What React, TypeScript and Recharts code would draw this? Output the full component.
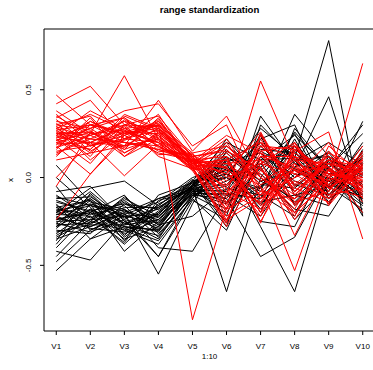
import React from "react";
import { LineChart, Line, XAxis, YAxis, ReferenceLine } from "recharts";

const categories = ["V1", "V2", "V3", "V4", "V5", "V6", "V7", "V8", "V9", "V10"];
const yTicks = [-0.5, 0, 0.5];
const yTickLabels = ["-0.5", "0.0", "0.5"];

const blackSeries: number[][] = [
  [-0.53, -0.35, -0.28, -0.30, -0.08, 0.05, -0.10, 0.12, -0.05, 0.02],
  [-0.48, -0.30, -0.22, -0.45, -0.10, -0.20, 0.08, -0.15, 0.05, -0.08],
  [-0.45, -0.25, -0.30, -0.38, -0.12, 0.10, 0.20, -0.05, 0.10, 0.00],
  [-0.42, -0.47, -0.25, -0.35, -0.06, -0.65, 0.00, 0.25, -0.10, 0.05],
  [-0.40, -0.20, -0.35, -0.28, -0.05, 0.00, -0.15, 0.05, -0.02, -0.12],
  [-0.38, -0.15, -0.42, -0.25, -0.10, -0.12, -0.45, -0.34, 0.02, 0.10],
  [-0.35, -0.28, -0.20, -0.55, -0.15, 0.15, 0.05, -0.20, 0.08, -0.05],
  [-0.33, -0.22, -0.38, -0.20, -0.03, -0.28, 0.30, 0.10, -0.15, 0.15],
  [-0.32, -0.18, -0.26, -0.22, -0.04, 0.08, -0.28, -0.65, 0.00, -0.10],
  [-0.30, -0.32, -0.15, -0.18, -0.02, 0.20, 0.10, 0.11, 0.78, -0.22],
  [-0.28, -0.10, -0.28, -0.30, -0.08, -0.05, 0.15, 0.05, 0.46, -0.15],
  [-0.27, -0.26, -0.18, -0.40, -0.42, -0.10, -0.05, 0.18, -0.08, 0.32],
  [-0.26, -0.12, -0.33, -0.15, -0.06, 0.12, -0.20, 0.28, 0.05, 0.30],
  [-0.25, -0.24, -0.22, -0.26, -0.09, -0.15, 0.25, -0.10, -0.05, -0.18],
  [-0.24, -0.20, -0.10, -0.32, -0.11, 0.02, -0.08, 0.36, 0.12, -0.22],
  [-0.23, -0.08, -0.24, -0.12, -0.05, 0.22, 0.00, -0.18, -0.22, 0.08],
  [-0.22, -0.29, -0.31, -0.20, -0.07, -0.08, 0.18, 0.00, 0.15, -0.06],
  [-0.21, -0.16, -0.19, -0.28, -0.04, 0.05, -0.12, 0.22, -0.12, 0.12],
  [-0.20, -0.06, -0.02, -0.16, -0.01, -0.22, 0.35, 0.08, 0.02, -0.15],
  [-0.19, -0.27, -0.27, -0.24, -0.06, 0.10, -0.25, -0.28, 0.10, 0.00],
  [-0.18, -0.21, -0.16, -0.34, -0.10, -0.02, 0.08, 0.15, -0.06, 0.18],
  [-0.17, -0.13, -0.36, -0.10, -0.03, 0.14, -0.02, -0.12, 0.06, -0.10],
  [-0.16, -0.25, -0.12, -0.22, -0.08, -0.18, 0.22, 0.30, -0.10, 0.06],
  [-0.15, -0.35, -0.21, -0.14, 0.00, 0.06, -0.18, 0.02, 0.00, -0.20],
  [-0.14, -0.19, -0.29, -0.36, -0.12, -0.30, 0.12, -0.08, 0.08, 0.02],
  [-0.12, -0.11, -0.23, -0.18, -0.05, 0.18, 0.04, 0.20, -0.04, 0.14],
  [-0.10, -0.23, -0.14, -0.27, -0.22, -0.06, -0.10, -0.22, 0.12, -0.04],
  [-0.08, -0.05, -0.25, -0.21, -0.02, 0.00, 0.28, 0.12, -0.14, 0.09],
  [-0.05, -0.30, -0.20, -0.12, -0.07, -0.14, -0.06, 0.26, 0.04, -0.12],
  [0.00, -0.17, -0.32, -0.24, -0.04, 0.09, 0.14, -0.02, -0.08, 0.20],
  [0.07, -0.14, -0.18, -0.30, -0.09, -0.10, -0.22, 0.06, 0.14, -0.08],
  [-0.36, -0.09, -0.27, -0.16, -0.02, 0.04, 0.02, -0.14, 0.06, 0.25],
  [-0.31, -0.27, -0.11, -0.26, -0.06, -0.04, 0.16, 0.14, -0.02, -0.16],
  [-0.29, -0.13, -0.34, -0.19, -0.05, 0.16, -0.04, -0.06, 0.10, 0.03],
  [-0.26, -0.31, -0.24, -0.45, -0.13, -0.24, 0.06, 0.18, -0.12, -0.02],
  [-0.24, -0.19, -0.15, -0.23, -0.03, 0.02, -0.16, 0.09, 0.20, 0.07],
  [-0.21, -0.22, -0.37, -0.13, -0.08, -0.07, 0.24, -0.16, 0.00, -0.09],
  [-0.19, -0.15, -0.21, -0.29, -0.04, 0.12, -0.02, 0.04, -0.06, 0.11],
  [-0.17, -0.26, -0.17, -0.17, -0.06, -0.12, 0.10, 0.24, 0.06, -0.13],
  [-0.13, -0.20, -0.28, -0.33, -0.10, 0.07, -0.14, -0.10, -0.16, 0.16],
  [-0.11, -0.16, -0.22, -0.21, -0.02, -0.26, 0.18, 0.00, 0.09, -0.05],
  [-0.34, -0.24, -0.13, -0.27, -0.07, 0.00, -0.06, 0.16, 0.02, 0.05],
  [-0.28, -0.18, -0.30, -0.17, -0.05, 0.11, 0.06, -0.24, -0.04, -0.11],
  [-0.23, -0.28, -0.19, -0.24, -0.09, -0.09, -0.12, 0.10, 0.12, 0.01],
  [-0.20, -0.12, -0.26, -0.31, -0.06, 0.03, 0.20, -0.04, -0.10, 0.13],
];

const redSeries: number[][] = [
  [0.47, 0.30, 0.25, 0.28, 0.10, 0.05, -0.10, 0.12, 0.00, -0.05],
  [0.42, 0.52, 0.30, 0.35, 0.12, -0.15, 0.20, -0.05, 0.08, 0.02],
  [0.38, 0.25, 0.58, 0.22, 0.08, 0.10, -0.20, 0.05, -0.10, 0.10],
  [0.36, 0.20, 0.18, 0.44, 0.15, 0.35, 0.00, -0.15, 0.05, -0.08],
  [0.34, 0.44, 0.22, 0.30, 0.06, -0.05, 0.15, 0.18, -0.05, 0.04],
  [0.32, 0.28, 0.38, 0.42, 0.18, 0.30, -0.12, 0.00, 0.20, -0.12],
  [0.31, 0.15, 0.26, 0.20, 0.04, -0.25, 0.25, -0.10, 0.10, 0.06],
  [0.30, 0.35, 0.14, 0.25, 0.10, 0.08, -0.05, -0.53, 0.02, 0.00],
  [0.29, 0.22, 0.32, 0.18, 0.07, -0.10, 0.55, 0.10, -0.08, 0.15],
  [0.28, 0.18, 0.24, 0.32, 0.12, 0.15, 0.05, -0.20, -0.02, 0.65],
  [0.27, 0.30, 0.20, 0.16, 0.09, 0.02, -0.15, 0.15, 0.26, -0.35],
  [0.26, 0.12, 0.35, 0.27, 0.11, -0.20, 0.10, -0.33, 0.05, -0.20],
  [0.25, 0.26, 0.18, 0.22, 0.05, 0.12, -0.25, 0.08, -0.15, 0.08],
  [0.24, 0.38, 0.28, 0.30, 0.14, -0.12, 0.18, 0.02, 0.12, -0.02],
  [0.23, 0.20, 0.01, 0.19, 0.08, 0.20, -0.08, -0.12, 0.00, 0.12],
  [0.22, 0.08, 0.30, 0.24, 0.06, -0.28, 0.08, 0.20, -0.06, 0.05],
  [0.21, 0.32, 0.24, 0.14, 0.10, 0.06, 0.22, -0.08, 0.08, -0.10],
  [0.20, 0.16, 0.36, 0.28, 0.13, -0.08, -0.18, 0.12, -0.12, 0.03],
  [0.19, 0.28, 0.16, 0.34, 0.07, 0.18, 0.02, -0.18, 0.15, -0.06],
  [0.18, 0.02, 0.22, 0.20, 0.09, -0.18, 0.12, 0.06, -0.02, 0.09],
  [0.17, 0.24, 0.30, 0.12, 0.05, 0.04, -0.22, 0.16, 0.04, -0.04],
  [0.16, 0.34, 0.12, 0.26, 0.11, -0.02, 0.16, -0.14, -0.08, 0.18],
  [0.15, 0.18, 0.26, 0.31, 0.08, 0.14, -0.04, 0.04, 0.06, -0.14],
  [0.14, 0.22, 0.20, 0.16, 0.12, -0.14, 0.06, -0.22, 0.18, 0.01],
  [0.12, 0.30, 0.34, 0.22, 0.04, 0.10, 0.20, 0.10, -0.04, 0.07],
  [0.10, 0.14, 0.18, 0.28, 0.10, -0.22, -0.10, 0.00, 0.10, -0.08],
  [0.00, 0.20, 0.28, 0.18, 0.06, 0.08, 0.10, -0.06, -0.14, 0.11],
  [-0.05, 0.26, 0.14, 0.24, 0.09, -0.06, -0.14, 0.14, 0.02, -0.01],
  [-0.24, 0.02, 0.24, 0.30, -0.81, -0.17, 0.04, -0.10, 0.08, 0.04],
  [0.35, 0.24, 0.32, 0.26, 0.12, 0.16, -0.02, 0.08, -0.06, 0.06],
  [0.33, 0.18, 0.22, 0.36, 0.07, -0.16, 0.14, -0.16, 0.04, -0.03],
  [0.30, 0.27, 0.12, 0.22, 0.10, 0.12, -0.26, 0.18, 0.00, 0.10],
  [0.28, 0.36, 0.27, 0.15, 0.13, 0.00, 0.08, 0.02, -0.10, -0.06],
  [0.27, 0.14, 0.30, 0.29, 0.05, -0.26, 0.24, -0.04, 0.12, 0.02],
  [0.25, 0.22, 0.20, 0.18, 0.08, 0.22, -0.06, -0.20, -0.02, 0.08],
  [0.23, 0.30, 0.26, 0.25, 0.11, -0.04, 0.12, 0.12, 0.06, -0.09],
  [0.22, 0.16, 0.33, 0.21, 0.07, 0.06, -0.16, -0.02, -0.12, 0.13],
  [0.20, 0.26, 0.17, 0.32, 0.09, -0.10, 0.18, 0.16, 0.02, -0.02],
  [0.19, 0.20, 0.29, 0.13, 0.14, 0.18, 0.00, -0.12, 0.14, 0.05],
  [0.17, 0.32, 0.22, 0.27, 0.06, -0.24, -0.12, 0.06, -0.06, -0.11],
  [0.26, 0.24, 0.16, 0.23, 0.10, 0.02, 0.26, -0.08, 0.10, 0.00],
  [0.29, 0.10, 0.25, 0.30, 0.08, 0.10, -0.20, 0.20, -0.16, 0.07],
  [0.21, 0.28, 0.34, 0.17, 0.12, -0.08, 0.06, -0.24, 0.04, -0.05],
  [0.24, 0.19, 0.21, 0.33, 0.09, 0.24, 0.14, 0.04, -0.04, 0.14],
  [0.13, 0.25, 0.27, 0.20, 0.05, -0.18, -0.08, 0.10, 0.08, -0.07],
];

const data = categories.map((c, i) => {
  const row: Record<string, number | string> = { idx: i + 1, cat: c };
  blackSeries.forEach((s, j) => {
    row["b" + j] = s[i];
  });
  redSeries.forEach((s, j) => {
    row["r" + j] = s[i];
  });
  return row;
});

const FONT = "'Liberation Sans', Arial, Helvetica, sans-serif";
const Y_MIN = -0.874;
const Y_MAX = 0.846;

const YTick = (props: any) => {
  const { y, payload } = props;
  const i = yTicks.indexOf(payload.value);
  const label = i >= 0 ? yTickLabels[i] : String(payload.value);
  return (
    <text
      x={29}
      y={y}
      transform={`rotate(-90, 29, ${y})`}
      textAnchor="middle"
      dominantBaseline="central"
      fontSize={8}
      fontFamily={FONT}
      fill="#000"
    >
      {label}
    </text>
  );
};

export default function App() {
  return (
    <div
      style={{
        position: "fixed",
        left: 0,
        top: 0,
        width: 373,
        height: 370,
        overflow: "hidden",
        background: "#fff",
      }}
    >
      <LineChart
        width={376}
        height={370}
        data={data}
        margin={{ top: 29, right: 1, bottom: 0, left: 0 }}
      >
        <XAxis
          dataKey="idx"
          type="number"
          domain={[0.64, 10.36]}
          allowDataOverflow
          ticks={[1, 2, 3, 4, 5, 6, 7, 8, 9, 10]}
          tickFormatter={(v: number) => categories[v - 1]}
          interval={0}
          stroke="#000"
          tickSize={4}
          tickMargin={8}
          tick={{ fontSize: 8, fontFamily: FONT, fill: "#000" }}
          height={39}
        />
        <YAxis
          type="number"
          domain={[Y_MIN, Y_MAX]}
          allowDataOverflow
          ticks={yTicks}
          interval={0}
          stroke="#000"
          tickSize={4}
          tick={<YTick />}
          width={44}
        />
        <ReferenceLine y={Y_MAX} stroke="#000" strokeWidth={1} />
        {blackSeries.map((_, j) => (
          <Line
            key={"b" + j}
            dataKey={"b" + j}
            type="linear"
            stroke="#000000"
            strokeWidth={1}
            dot={false}
            activeDot={false}
            isAnimationActive={false}
          />
        ))}
        {redSeries.map((_, j) => (
          <Line
            key={"r" + j}
            dataKey={"r" + j}
            type="linear"
            stroke="#ff0000"
            strokeWidth={1}
            dot={false}
            activeDot={false}
            isAnimationActive={false}
          />
        ))}
      </LineChart>
      <div
        style={{
          position: "absolute",
          left: 209.5,
          top: 10,
          transform: "translate(-50%, -50%)",
          fontFamily: FONT,
          fontWeight: "bold",
          fontSize: 9.6,
          lineHeight: 1,
          whiteSpace: "nowrap",
          color: "#000",
        }}
      >
        range standardization
      </div>
      <div
        style={{
          position: "absolute",
          left: 209.5,
          top: 357,
          transform: "translate(-50%, -50%)",
          fontFamily: FONT,
          fontSize: 8,
          lineHeight: 1,
          whiteSpace: "nowrap",
          color: "#000",
        }}
      >
        1:10
      </div>
      <div
        style={{
          position: "absolute",
          left: 11,
          top: 180,
          transform: "translate(-50%, -50%) rotate(-90deg)",
          fontFamily: FONT,
          fontSize: 8,
          lineHeight: 1,
          whiteSpace: "nowrap",
          color: "#000",
        }}
      >
        x
      </div>
    </div>
  );
}
